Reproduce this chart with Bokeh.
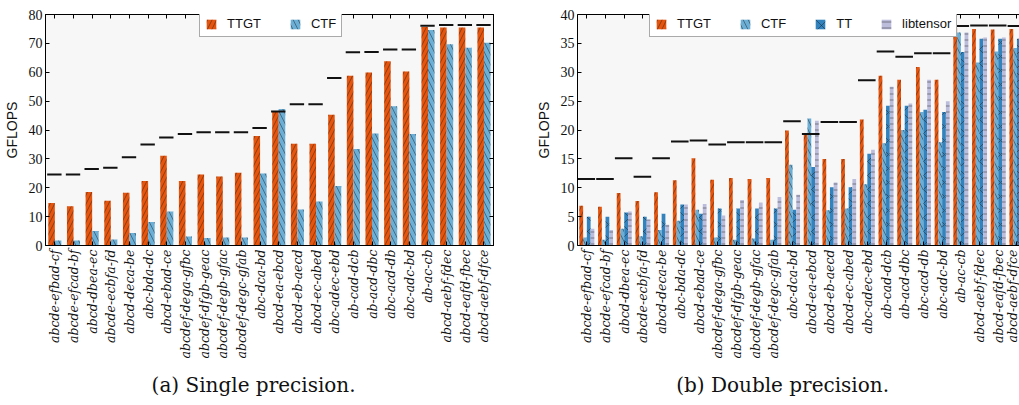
import numpy as np
from bokeh.plotting import figure
from bokeh.layouts import row
from bokeh.models import (Range1d, FixedTicker, SingleIntervalTicker, Legend, LegendItem,
                          LinearAxis, Title, ColumnDataSource, CustomLabelingPolicy)
from bokeh.embed import file_html
from bokeh.resources import INLINE

categories = ["abcde-efbad-cf", "abcde-efcad-bf", "abcd-dbea-ec", "abcde-ecbfa-fd",
              "abcd-deca-be", "abc-bda-dc", "abcd-ebad-ce", "abcdef-dega-gfbc",
              "abcdef-dfgb-geac", "abcdef-degb-gfac", "abcdef-degc-gfab", "abc-dca-bd",
              "abcd-ea-ebcd", "abcd-eb-aecd", "abcd-ec-abed", "abc-adec-ebd",
              "ab-cad-dcb", "ab-acd-dbc", "abc-acd-db", "abc-adc-bd",
              "ab-ac-cb", "abcd-aebf-fdec", "abcd-eafd-fbec", "abcd-aebf-dfce"]

# Single precision (GFLOPS)
sp_ttgt = [14.7, 13.6, 18.5, 15.5, 18.3, 22.3, 31.1, 22.3, 24.6, 23.9, 25.2, 37.9,
           46.3, 35.2, 35.2, 45.3, 58.8, 59.9, 63.8, 60.3, 75.7, 75.5, 75.5, 75.5]
sp_ctf = [1.7, 1.7, 5.0, 2.1, 4.3, 8.1, 11.8, 3.1, 2.6, 2.8, 2.8, 24.9,
          47.3, 12.5, 15.2, 20.6, 33.4, 38.8, 48.2, 38.6, 74.6, 69.7, 68.5, 70.2]
sp_peak = [24.6, 24.6, 26.5, 26.9, 30.6, 35.0, 37.4, 38.6, 39.2, 39.2, 39.2, 40.7,
           46.4, 48.9, 48.9, 58.0, 66.9, 67.0, 67.9, 67.9, 76.1, 76.4, 76.4, 76.4]

# Double precision (GFLOPS)
dp_ttgt = [6.9, 6.7, 9.1, 7.7, 9.2, 11.3, 15.1, 11.4, 11.7, 11.5, 11.7, 19.9,
           19.3, 15.0, 15.0, 21.8, 29.4, 28.7, 30.9, 28.7, 37.7, 37.5, 37.4, 37.5]
dp_ctf = [1.4, 1.0, 2.9, 1.6, 2.7, 4.3, 6.2, 1.4, 1.0, 1.2, 1.0, 14.0,
          22.0, 6.1, 6.4, 10.6, 17.7, 20.0, 23.1, 17.9, 36.9, 31.7, 33.6, 34.2]
dp_tt = [5.0, 5.0, 5.7, 5.0, 5.5, 7.1, 5.5, 6.4, 6.4, 6.4, 6.4, 6.2,
         13.6, 10.1, 10.1, 15.9, 24.2, 24.2, 23.5, 23.1, 33.5, 35.8, 35.8, 35.8]
dp_lib = [2.9, 2.7, 5.9, 4.5, 3.6, 7.1, 7.2, 5.2, 7.9, 7.4, 8.4, 8.8,
          21.6, 10.9, 11.5, 16.6, 27.5, 24.6, 28.7, 25.0, 36.9, 36.0, 36.0, 36.0]
dp_peak = [11.5, 11.5, 15.1, 11.9, 15.1, 18.0, 18.2, 17.5, 17.9, 17.9, 17.9, 21.5,
           19.3, 21.4, 21.4, 28.6, 33.6, 32.7, 33.3, 33.3, 38.0, 38.1, 38.1, 38.0]

captions = ["(a) Single precision.", "(b) Double precision."]

STYLE = {
    "TTGT": dict(color="#e6550d", hatch="/", scale=9.0),
    "CTF": dict(color="#6baed6", hatch="\\", scale=10.0),
    "TT": dict(color="#3182bd", hatch="x", scale=14.0),
    "libtensor": dict(color="#bcbddc", hatch="-", scale=6.0),
}

SERIF = "DejaVu Serif"
H = 405
TOP = 14
FRAME_H = 231
SLOT = 18.7
NBSP = "\u00a0"

hide_labels = CustomLabelingPolicy(code="return new Set()")


def make_panel(width, left_border, right_border, ymax, ystep, series, peak,
               bar_w, peak_lo, peak_hi, caption, cap_pad, legend_x, full_right):
    n = len(categories)
    idx = np.arange(n)
    frame_w = width - left_border - right_border
    xmax = -0.5 + frame_w / SLOT
    p = figure(width=width, height=H, output_backend="svg", toolbar_location=None,
               x_range=Range1d(-0.5, xmax), y_range=Range1d(0, ymax),
               min_border_left=left_border, min_border_right=right_border,
               min_border_top=TOP, min_border_bottom=H - TOP - FRAME_H,
               background_fill_color="#f7f7f7", border_fill_color="white")
    p.xgrid.visible = False
    p.ygrid.visible = False
    p.outline_line_color = "black" if full_right else None
    p.outline_line_width = 1

    k = len(series)
    items = []
    for j, (name, vals) in enumerate(series):
        st = STYLE[name]
        off = (j - (k - 1) / 2.0) * bar_w
        src = ColumnDataSource(dict(x=idx + off, top=vals))
        r = p.vbar(x="x", top="top", width=bar_w, bottom=0, source=src,
                   fill_color=st["color"], line_color=None,
                   hatch_pattern=st["hatch"], hatch_color="#1a1a1a",
                   hatch_alpha=0.75, hatch_weight=0.6, hatch_scale=st["scale"])
        items.append(LegendItem(label=name, renderers=[r]))

    psrc = ColumnDataSource(dict(x0=idx + peak_lo, x1=idx + peak_hi, y=peak))
    p.segment(x0="x0", x1="x1", y0="y", y1="y", source=psrc,
              line_color="#111111", line_width=2)

    # axes
    xa = p.xaxis[0]
    xa.ticker = FixedTicker(ticks=list(idx))
    xa.major_label_overrides = {int(i): c for i, c in zip(idx, categories)}
    xa.major_label_orientation = np.pi / 2
    xa.major_label_text_font = SERIF
    xa.major_label_text_font_style = "italic"
    xa.major_label_text_font_size = "12.5px"
    xa.major_label_text_color = "#111111"
    xa.major_label_standoff = 4
    xa.major_tick_in = 4
    xa.major_tick_out = 0
    xa.minor_tick_line_color = None
    xa.axis_line_color = "black"

    ya = p.yaxis[0]
    ya.ticker = SingleIntervalTicker(interval=ystep, num_minor_ticks=0)
    ya.major_label_text_font = "Liberation Serif"
    ya.major_label_text_font_size = "14px"
    ya.major_label_text_color = "#111111"
    ya.major_label_standoff = 3
    ya.major_tick_in = 4
    ya.major_tick_out = 0
    ya.minor_tick_line_color = None
    ya.axis_label = "GFLOPS"
    ya.axis_label_text_font = "Liberation Sans"
    ya.axis_label_text_font_style = "normal"
    ya.axis_label_text_font_size = "14px"
    ya.axis_label_text_color = "#111111"
    ya.axis_label_standoff = 6
    ya.axis_line_color = "black"

    top = LinearAxis(ticker=FixedTicker(ticks=list(idx)), major_label_policy=hide_labels,
                     major_label_standoff=0, major_tick_in=4, major_tick_out=0,
                     minor_tick_line_color=None, axis_line_color="black")
    p.add_layout(top, "above")
    if full_right:
        ra = LinearAxis(ticker=SingleIntervalTicker(interval=ystep, num_minor_ticks=0),
                        major_label_policy=hide_labels, major_label_standoff=0,
                        major_tick_in=4, major_tick_out=0, minor_tick_line_color=None,
                        axis_line_color="black")
        p.add_layout(ra, "right")

    leg = Legend(items=items, orientation="horizontal", location=(legend_x, FRAME_H - 23),
                 label_text_font="Liberation Sans", label_text_font_size="13px",
                 label_text_color="#111111",
                 glyph_width=12, glyph_height=12, label_height=12, label_width=10,
                 label_standoff=10, spacing=28, padding=5, margin=0,
                 border_line_color="#555555", border_line_width=1,
                 background_fill_color="white", background_fill_alpha=1.0)
    p.add_layout(leg)

    t = Title(text=caption + NBSP * cap_pad, align="center", standoff=18, text_font=SERIF,
              text_font_size="20px", text_font_style="normal", text_color="#111111")
    p.add_layout(t, "below")
    return p


p1 = make_panel(510, 44, 17, 80, 10, [("TTGT", sp_ttgt), ("CTF", sp_ctf)], sp_peak,
                0.35, -0.41, 0.36, captions[0], 5, 154, True)
p2 = make_panel(509, 67, 0, 40, 5,
                [("TTGT", dp_ttgt), ("CTF", dp_ctf), ("TT", dp_tt), ("libtensor", dp_lib)],
                dp_peak, 0.2, -0.5, 0.44, captions[1], 5, 72, False)

layout = row(p1, p2)
open("out.html", "w").write(file_html(layout, INLINE))
